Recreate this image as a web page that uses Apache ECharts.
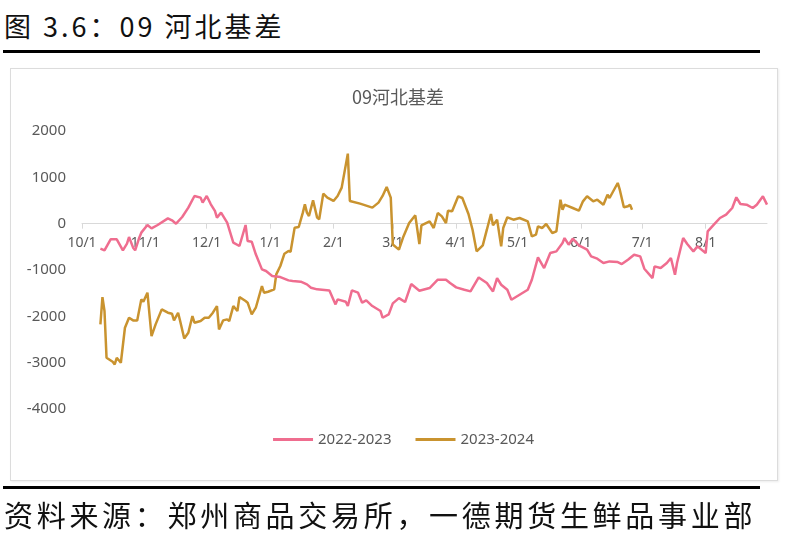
<!DOCTYPE html>
<html>
<head>
<meta charset="utf-8">
<script src="https://cdn.jsdelivr.net/npm/echarts@6/dist/echarts.min.js"></script>
<style>
html,body{margin:0;padding:0;background:#fff;width:807px;height:547px;overflow:hidden;font-family:"Noto Sans CJK SC","Noto Sans",sans-serif;}
#frame{position:absolute;left:10px;top:68px;width:766px;height:411px;border:1px solid #dcdcdc;box-shadow:1px 1px 2px rgba(0,0,0,0.08);}
#chart{position:absolute;left:0;top:0;width:807px;height:547px;}
#title{position:absolute;left:4px;top:6px;font-size:27px;color:#111;letter-spacing:3px;white-space:nowrap;}
#line1{position:absolute;left:3px;top:50px;width:757px;height:3px;background:#000;}
#line2{position:absolute;left:3px;top:486px;width:757px;height:3px;background:#000;}
#source{position:absolute;left:4px;top:493px;font-size:29px;color:#111;letter-spacing:3.7px;white-space:nowrap;}
</style>
</head>
<body>
<div id="title">图 3.6：09 河北基差</div>
<div id="line1"></div>
<div id="frame"></div>
<div id="chart"></div>
<div id="line2"></div>
<div id="source">资料来源：郑州商品交易所，一德期货生鲜品事业部</div>
<script>
// Calendar of the season (month, days in month)
var monthDays = [[10,31],[11,30],[12,31],[1,31],[2,29],[3,31],[4,30],[5,31],[6,30],[7,31],[8,31]];
var categories = [];
monthDays.forEach(function(m){ for (var d = 1; d <= m[1]; d++) categories.push(m[0] + '/' + d); });

var seriesNames = ['2022-2023', '2023-2024'];
var yTicks = [-4000, -3000, -2000, -1000, 0, 1000, 2000];

var dates2223 = ['10/10','10/12','10/15','10/18','10/21','10/23','10/24','10/26','10/27','10/29','10/30',
 '11/2','11/4','11/7','11/12','11/14','11/16','11/19','11/22','11/25','11/28','11/29',
 '12/1','12/3','12/5','12/6','12/8','12/11','12/14','12/17','12/20','12/21','12/23','12/25','12/28','12/30',
 '1/2','1/6','1/10','1/12','1/16','1/19','1/21','1/24','1/30',
 '2/2','2/3','2/7','2/8','2/10','2/13','2/15','2/17','2/20','2/24','2/25','2/28',
 '3/1','3/4','3/7','3/10','3/14','3/19','3/23','3/27','3/29',
 '4/1','4/5','4/8','4/12','4/16','4/19','4/21','4/23','4/26','4/28',
 '5/2','5/6','5/8','5/11','5/14','5/17','5/20','5/23','5/24','5/26','5/28','5/31',
 '6/4','6/6','6/9','6/12','6/15','6/19','6/21','6/24','6/27','6/30',
 '7/2','7/6','7/7','7/10','7/13','7/15','7/17','7/18','7/21','7/23','7/26','7/28',
 '8/1','8/2','8/5','8/8','8/11','8/14','8/16','8/18','8/21','8/24','8/26','8/29','8/31'];
var values2223 = [-540,-576,-338,-338,-576,-432,-288,-518,-576,-302,-194,
 -29,-101,-29,115,72,0,144,346,598,562,454,
 598,418,274,130,238,22,-410,-482,-29,-374,-389,-662,-986,-1022,
 -1130,-1152,-1224,-1238,-1253,-1310,-1382,-1418,-1440,
 -1742,-1634,-1685,-1778,-1440,-1490,-1706,-1656,-1778,-1886,-2030,-1958,
 -1720,-1606,-1692,-1303,-1447,-1390,-1210,-1210,-1282,
 -1375,-1426,-1462,-1160,-1282,-1462,-1174,-1318,-1426,-1642,
 -1534,-1426,-1210,-727,-958,-634,-598,-418,-310,-454,-324,-468,
 -562,-706,-756,-850,-814,-828,-871,-778,-670,-706,
 -972,-1174,-922,-958,-850,-742,-1102,-850,-310,-439,-598,-490,
 -634,-166,-22,122,194,338,569,425,410,338,410,590,410];

var dates2324 = ['10/10','10/11','10/12','10/13','10/16','10/17','10/18','10/20','10/22','10/24','10/26','10/28','10/30','10/31',
 '11/2','11/4','11/6','11/9','11/12','11/14','11/15','11/17','11/18','11/20','11/22','11/24','11/25','11/28','11/30',
 '12/2','12/4','12/6','12/7','12/9','12/11','12/12','12/14','12/16','12/17','12/20','12/21','12/23','12/25','12/28','12/29','12/31',
 '1/3','1/4','1/6','1/8','1/10','1/11','1/13','1/15','1/17','1/18','1/19','1/20','1/22','1/24','1/25','1/27','1/29',
 '2/1','2/3','2/5','2/8','2/9','2/14','2/20','2/23','2/25','2/27','2/29',
 '3/1','3/4','3/6','3/9','3/12','3/14','3/15','3/19','3/21','3/23','3/25','3/27','3/28','3/30',
 '4/2','4/4','4/7','4/9','4/11','4/14','4/16','4/18','4/19','4/21','4/23','4/24','4/26','4/29',
 '5/2','5/6','5/8','5/10','5/11','5/13','5/15','5/18','5/20','5/22','5/23','5/24','5/28','5/31',
 '6/2','6/4','6/7','6/9','6/12','6/14','6/15','6/19','6/20','6/22','6/24','6/25','6/26'];
var values2324 = [-2174,-1584,-1886,-2894,-2980,-3038,-2894,-3002,-2246,-2030,-2088,-2088,-1634,-1685,
 -1490,-2426,-2174,-1850,-1922,-1944,-2088,-1922,-2102,-2477,-2354,-1994,-2138,-2102,-2030,
 -2030,-1922,-1778,-2282,-2088,-2066,-2102,-1778,-1886,-1584,-1670,-1706,-1958,-1814,-1346,-1490,-1469,
 -1418,-1094,-914,-648,-590,-605,-86,-72,238,418,238,166,504,130,94,648,562,
 490,598,778,1512,490,432,346,454,598,790,562,
 -450,-560,-300,14,180,-439,-36,50,-94,230,158,14,281,266,
 590,554,209,-130,-598,-468,-130,209,-36,86,-490,-94,137,86,
 122,50,-274,-238,-58,-94,-7,-202,-166,518,302,410,338,281,
 482,590,482,518,410,626,554,878,734,353,374,410,302];

function zip(a, b){ return a.map(function(d, i){ return [d, b[i]]; }); }

var chart = echarts.init(document.getElementById('chart'));
var labelColor = '#595959';
var gridTop = 131, gridBottomY = 409;
var zeroOffset = -(gridBottomY - gridTop) * (0 - yTicks[0]) / (yTicks[yTicks.length - 1] - yTicks[0]);
chart.setOption({
  animation: false,
  backgroundColor: 'transparent',
  color: ['#EF6D8F', '#C9932F'],
  graphic: [{
    type: 'text', x: 398, y: 97,
    style: { text: '09河北基差', fill: labelColor, font: '18px "Noto Sans CJK SC", sans-serif',
             align: 'center', verticalAlign: 'middle', textAlign: 'center', textVerticalAlign: 'middle' }
  }],
  grid: { left: 82, right: 40, top: gridTop, bottom: 547 - gridBottomY, containLabel: false },
  legend: {
    data: seriesNames, bottom: 95, left: 'center', icon: 'rect', itemWidth: 40, itemHeight: 3, itemGap: 24,
    textStyle: { color: labelColor, fontSize: 15, fontFamily: 'Noto Sans' }
  },
  xAxis: {
    type: 'category', data: categories, boundaryGap: false, position: 'bottom', offset: zeroOffset,
    axisLine: { onZero: false, lineStyle: { color: '#d9d9d9', width: 1 } },
    axisTick: { show: true, length: 5, lineStyle: { color: '#d9d9d9' },
                interval: function(i, v){ return /\/1$/.test(v); } },
    axisLabel: { color: labelColor, fontSize: 14, fontFamily: 'Noto Sans', margin: 12,
                 interval: function(i, v){ return /\/1$/.test(v); } },
    splitLine: { show: false }
  },
  yAxis: {
    type: 'value', min: yTicks[0], max: yTicks[yTicks.length - 1], interval: 1000,
    axisLine: { show: false }, axisTick: { show: false }, splitLine: { show: false },
    axisLabel: { color: labelColor, fontSize: 15, fontFamily: 'Noto Sans', margin: 16,
                 formatter: function(v){ return String(v); } }
  },
  series: [
    { name: seriesNames[0], type: 'line', data: zip(dates2223, values2223), showSymbol: false, symbol: 'none',
      lineStyle: { width: 2.5 }, z: 3 },
    { name: seriesNames[1], type: 'line', data: zip(dates2324, values2324), showSymbol: false, symbol: 'none',
      lineStyle: { width: 2.5 }, z: 2 }
  ]
});
</script>
</body>
</html>
